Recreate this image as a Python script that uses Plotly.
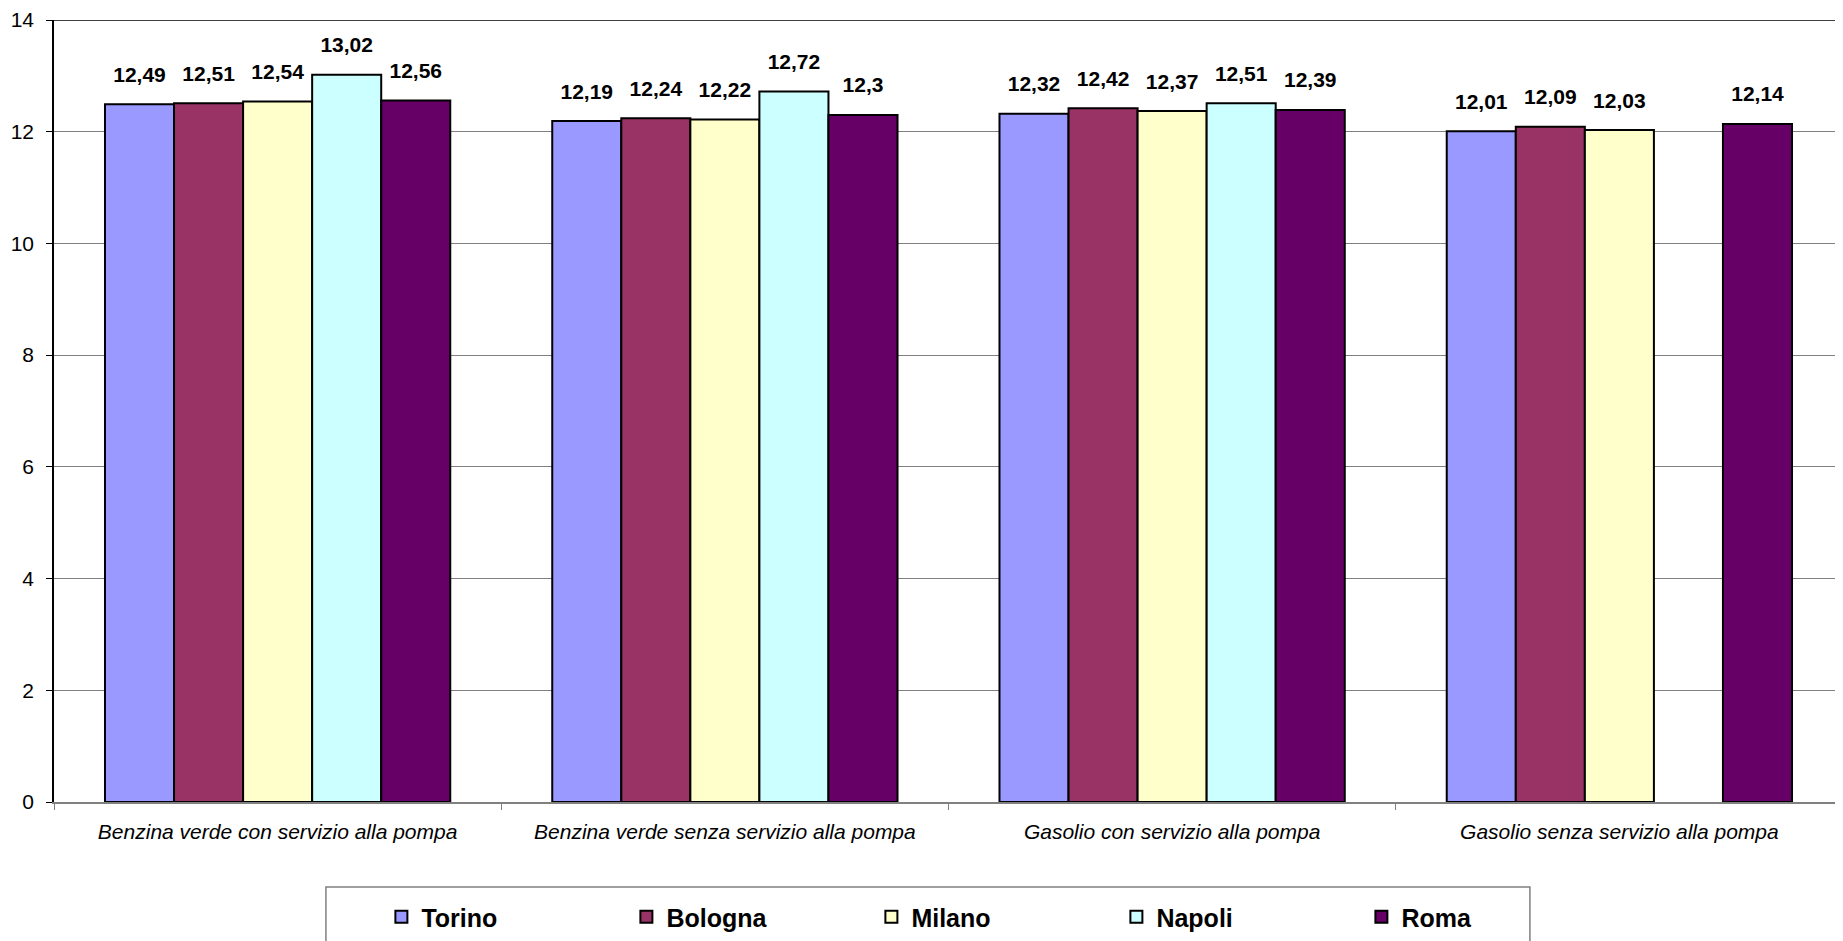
import plotly.graph_objects as go

categories = [
    "Benzina verde con servizio alla pompa",
    "Benzina verde senza servizio alla pompa",
    "Gasolio con servizio alla pompa",
    "Gasolio senza servizio alla pompa",
]
cities = ["Torino", "Bologna", "Milano", "Napoli", "Roma"]
torino = [12.49, 12.19, 12.32, 12.01]
bologna = [12.51, 12.24, 12.42, 12.09]
milano = [12.54, 12.22, 12.37, 12.03]
napoli = [13.02, 12.72, 12.51, None]
roma = [12.56, 12.3, 12.39, 12.14]
colors = ["#9999FF", "#993366", "#FFFFCC", "#CCFFFF", "#660066"]
y_ticks = [0, 2, 4, 6, 8, 10, 12, 14]

series = [torino, bologna, milano, napoli, roma]
FONT = "Liberation Sans, Arial"

fig = go.Figure()
for i, (name, vals, col) in enumerate(zip(cities, series, colors)):
    fig.add_trace(go.Bar(
        name=name,
        x=categories,
        y=vals,
        offsetgroup=str(i),
        marker=dict(color=col, line=dict(color="black", width=2)),
    ))
for i, (name, vals) in enumerate(zip(cities, series)):
    fig.add_trace(go.Scatter(
        name=name + " labels",
        x=categories,
        y=vals,
        offsetgroup=str(i),
        mode="markers+text",
        marker=dict(size=26, opacity=0),
        text=[("" if v is None else str(v).replace(".", ",")) for v in vals],
        textposition="top center",
        textfont=dict(family=FONT, size=21, color="black", weight="bold"),
        showlegend=False,
        hoverinfo="skip",
        cliponaxis=False,
    ))

fig.update_layout(
    width=1835, height=933,
    margin=dict(l=46, r=0, t=12, b=139),
    paper_bgcolor="white", plot_bgcolor="white",
    barmode="group", bargap=0.228, bargroupgap=0,
    scattermode="group", scattergap=0.228,
    font=dict(family=FONT, color="black"),
    showlegend=True,
    legend=dict(
        orientation="h", x=0.183, xanchor="left", y=-0.1471, yanchor="middle",
        borderwidth=0, bgcolor="rgba(0,0,0,0)",
        entrywidth=200, entrywidthmode="pixels",
        font=dict(family=FONT, size=25, color="black", weight="bold"),
        itemwidth=30,
    ),
)
fig.update_xaxes(
    type="category", showline=True, linecolor="#808080", linewidth=1.5,
    ticks="outside", tickson="boundaries", ticklen=6, tickcolor="#808080",
    tickfont=dict(family=FONT, size=21, style="italic"), showgrid=False,
    ticklabelstandoff=10, automargin=False,
)
fig.update_yaxes(
    range=[0, 14], tickvals=y_ticks, showline=True, linecolor="black", linewidth=1.5,
    ticks="outside", ticklen=6, tickcolor="black", tickfont=dict(family=FONT, size=21),
    showgrid=True, gridcolor="#808080", gridwidth=1, zeroline=False,
    ticklabelstandoff=8, ticklabeloverflow="allow", automargin=False,
)
fig.add_shape(type="line", xref="paper", yref="y", x0=0, x1=1, y0=14, y1=14,
              line=dict(color="black", width=1.5))
fig.add_shape(type="rect", xref="paper", yref="paper", x0=0.152, x1=0.825,
              y0=-0.1087, y1=-0.19, line=dict(color="#808080", width=1.5),
              fillcolor="rgba(0,0,0,0)", layer="above")

fig.write_html("out.html")
